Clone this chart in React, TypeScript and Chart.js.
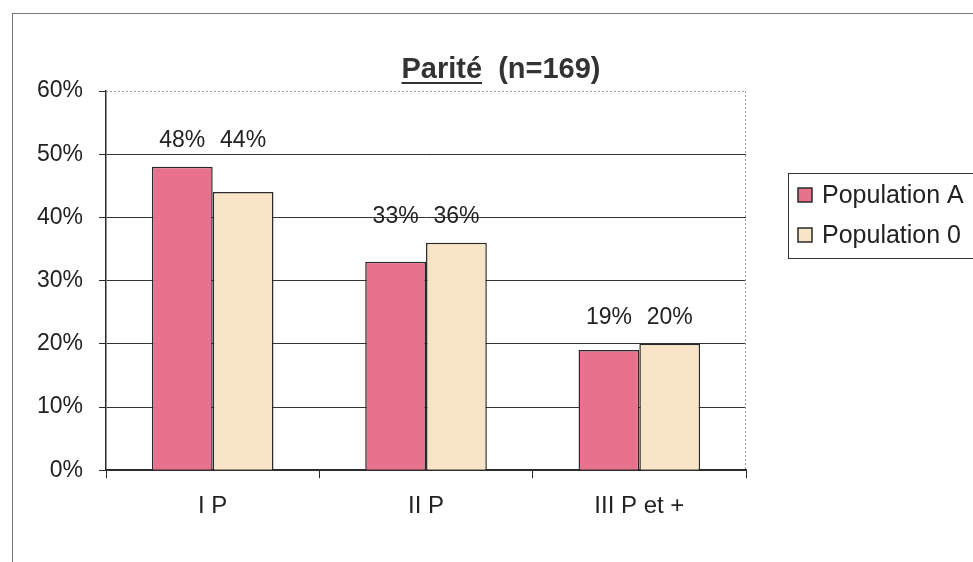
import React, { useEffect, useRef } from "react";
import { Chart, registerables } from "chart.js";

Chart.register(...registerables);

const categories = ["I P", "II P", "III P et +"];
const seriesNames = ["Population A", "Population 0"];
const populationA = [48, 33, 19];
const population0 = [44, 36, 20];
const yTicks = [0, 10, 20, 30, 40, 50, 60];
const titleMain = "Parité";
const titleRest = "  (n=169)";

const PINK = "#e8728e";
const CREAM = "#f8e4c6";
const DARK = "#2a2a2a";
const TEXT = "#222";
const FONT = "'Liberation Sans', Arial, sans-serif";

const overlayPlugin = {
  id: "overlay",
  afterDatasetsDraw(chart: any) {
    const ctx = chart.ctx;
    const area = chart.chartArea;
    ctx.save();
    // dotted top & right plot border
    ctx.strokeStyle = "#9a9a9a";
    ctx.lineWidth = 1;
    ctx.setLineDash([2, 2]);
    ctx.beginPath();
    ctx.moveTo(area.left, area.top + 0.5);
    ctx.lineTo(area.right, area.top + 0.5);
    ctx.moveTo(area.right - 0.5, area.top);
    ctx.lineTo(area.right - 0.5, area.bottom);
    ctx.stroke();
    ctx.setLineDash([]);

    // data labels, aligned per group above the tallest bar
    const metas = chart.data.datasets.map((_: any, i: number) => chart.getDatasetMeta(i));
    ctx.fillStyle = TEXT;
    ctx.font = `23px ${FONT}`;
    ctx.textAlign = "center";
    ctx.textBaseline = "alphabetic";
    categories.forEach((_, i) => {
      let minY = Infinity;
      metas.forEach((m: any) => { minY = Math.min(minY, m.data[i].y); });
      metas.forEach((m: any, d: number) => {
        const v = chart.data.datasets[d].data[i];
        ctx.fillText(v + "%", m.data[i].x, minY - 20);
      });
    });

    // title
    ctx.font = `bold 29px ${FONT}`;
    ctx.textAlign = "left";
    const w1 = ctx.measureText(titleMain).width;
    const w2 = ctx.measureText(titleRest).width;
    const cx = 501;
    const x0 = cx - (w1 + w2) / 2;
    const by = 78;
    ctx.fillStyle = "#333";
    ctx.fillText(titleMain, x0, by);
    ctx.fillText(titleRest, x0 + w1, by);
    ctx.strokeStyle = "#333";
    ctx.lineWidth = 2;
    ctx.beginPath();
    ctx.moveTo(x0, by + 5);
    ctx.lineTo(x0 + w1, by + 5);
    ctx.stroke();

    // legend box
    const lx = 788, ly = 173, lw = 200, lh = 85;
    ctx.strokeStyle = "#333";
    ctx.lineWidth = 1;
    ctx.strokeRect(lx + 0.5, ly + 0.5, lw, lh);
    const colors = [PINK, CREAM];
    ctx.font = `25px ${FONT}`;
    seriesNames.forEach((name, i) => {
      const y = 203 + i * 40;
      ctx.fillStyle = colors[i];
      ctx.fillRect(798, y - 15, 14, 14);
      ctx.strokeStyle = DARK;
      ctx.lineWidth = 1.5;
      ctx.strokeRect(798, y - 15, 14, 14);
      ctx.fillStyle = TEXT;
      ctx.fillText(name, 822, y);
    });
    ctx.restore();
  },
};

export default function App() {
  const ref = useRef<HTMLCanvasElement>(null);
  useEffect(() => {
    const chart = new Chart(ref.current!, {
      type: "bar",
      data: {
        labels: categories,
        datasets: [
          { label: seriesNames[0], data: populationA, backgroundColor: PINK, borderColor: DARK, borderWidth: 1.5 },
          { label: seriesNames[1], data: population0, backgroundColor: CREAM, borderColor: DARK, borderWidth: 1.5 },
        ],
      },
      options: {
        animation: false,
        responsive: false,
        devicePixelRatio: 1,
        layout: { padding: { left: 21, right: 227, top: 91, bottom: 27 } },
        plugins: { legend: { display: false }, title: { display: false }, tooltip: { enabled: false } },
        datasets: { bar: { categoryPercentage: 0.57, barPercentage: 1 } },
        scales: {
          x: {
            grid: { display: true, drawOnChartArea: false, offset: true, tickLength: 8, color: DARK },
            border: { display: true, color: DARK, width: 1.5 },
            ticks: { color: TEXT, font: { family: FONT, size: 24 }, padding: 14 },
          },
          y: {
            min: 0,
            max: 60,
            afterBuildTicks: (axis: any) => { axis.ticks = yTicks.map((v) => ({ value: v })); },
            grid: {
              color: (c: any) => (c.tick && c.tick.value === 60 ? "rgba(0,0,0,0)" : "#333"),
              tickColor: DARK,
              tickLength: 7,
              lineWidth: 1,
            },
            border: { display: true, color: DARK, width: 1.5 },
            ticks: { color: TEXT, font: { family: FONT, size: 23 }, padding: 16, callback: (v: any) => v + "%" },
          },
        },
      },
      plugins: [overlayPlugin],
    });
    return () => chart.destroy();
  }, []);
  return (
    <div style={{ position: "absolute", left: 0, top: 0, width: 973, height: 562, background: "#fff", overflow: "hidden" }}>
      <div style={{ position: "absolute", left: 12, top: 13, right: -2, bottom: -2, borderTop: "1px solid #777", borderLeft: "1px solid #777" }} />
      <canvas ref={ref} width={973} height={562} style={{ position: "absolute", left: 0, top: 0 }} />
    </div>
  );
}
